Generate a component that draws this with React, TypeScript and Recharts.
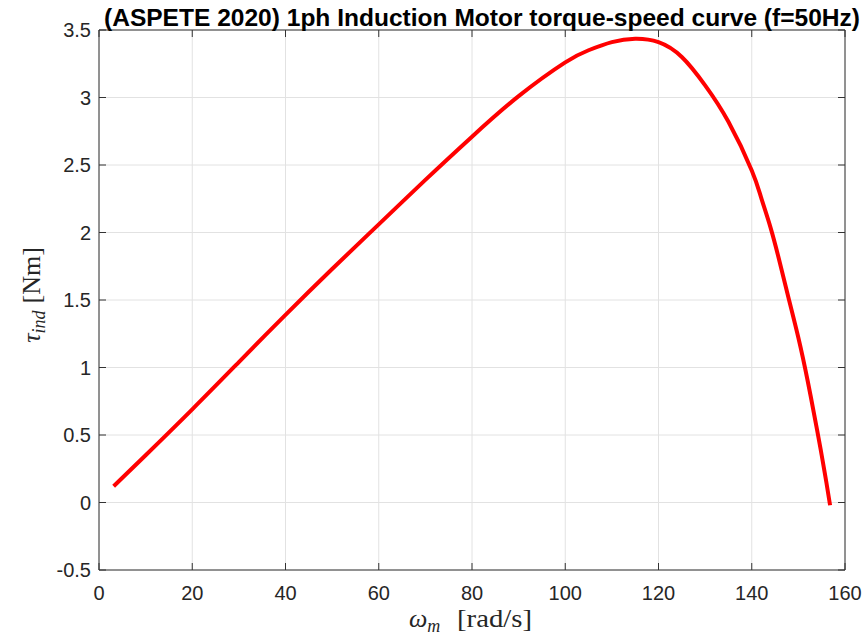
import React from 'react';
import { LineChart, Line, XAxis, YAxis, CartesianGrid } from 'recharts';

// shaft speed (rad/s) and induced torque (Nm)
const speed = [
  3.14, 10, 20, 30, 40, 50, 60, 70, 80, 90, 100, 105, 110, 115, 120, 125, 130,
  135, 140, 142, 144, 146, 148, 150, 152, 154, 155, 156, 156.8,
];
const torque = [
  0.12, 0.35, 0.69, 1.04, 1.39, 1.73, 2.06, 2.39, 2.71, 3.01, 3.26, 3.35, 3.41,
  3.435, 3.41, 3.3, 3.09, 2.82, 2.46, 2.26, 2.04, 1.78, 1.5, 1.22, 0.9, 0.54,
  0.35, 0.15, -0.02,
];
const xTicks = [0, 20, 40, 60, 80, 100, 120, 140, 160];
const yTicks = [-0.5, 0, 0.5, 1, 1.5, 2, 2.5, 3, 3.5];

const title = '(ASPETE 2020) 1ph Induction Motor torque-speed curve (f=50Hz)';

const rows = speed.map((w, i) => ({ w, tau: torque[i] }));

const W = 867;
const H = 639;
const axisColor = '#333333';
const labelFont = 'Liberation Sans, Arial, sans-serif';
const serif = 'Liberation Serif, DejaVu Serif, serif';
const line = { stroke: axisColor, strokeWidth: 1 };
const TICK = 7;

// tick renderers: MATLAB style, tick marks point into the plot box
const BottomTick = (p: any) => (
  <g>
    <line x1={p.x} x2={p.x} y1={p.y - 15} y2={p.y - 15 - TICK} stroke={axisColor} />
    <text x={p.x} y={p.y} dy="0.75em" textAnchor="middle" fontSize={20} fontFamily={labelFont} fill="#262626">
      {String(p.payload.value)}
    </text>
  </g>
);

const LeftTick = (p: any) => (
  <g>
    <line x1={p.x + 8} x2={p.x + 8 + TICK} y1={p.y} y2={p.y} stroke={axisColor} />
    <text x={p.x} y={p.y} dy="0.36em" textAnchor="end" fontSize={20} fontFamily={labelFont} fill="#262626">
      {String(p.payload.value)}
    </text>
  </g>
);

const TopTick = (p: any) => (
  <line x1={p.x} x2={p.x} y1={p.y} y2={p.y + TICK} stroke={axisColor} />
);

const RightTick = (p: any) => (
  <line x1={p.x} x2={p.x - TICK} y1={p.y} y2={p.y} stroke={axisColor} />
);

const App: React.FC = () => {
  return (
    <div style={{ position: 'absolute', left: 0, top: 0, width: W, height: H, background: '#fff' }}>
      <LineChart width={W} height={H} data={rows} margin={{ top: 20, right: 12, bottom: 0, left: 0 }}>
        <CartesianGrid stroke="#e2e2e2" strokeWidth={1} />
        <XAxis
          dataKey="w"
          type="number"
          domain={[0, 160]}
          ticks={xTicks}
          height={69}
          tickSize={0}
          tickMargin={15}
          tick={BottomTick}
          axisLine={line}
          tickLine={false}
          allowDataOverflow
        />
        <YAxis
          type="number"
          domain={[-0.5, 3.5]}
          ticks={yTicks}
          width={99}
          tickSize={0}
          tickMargin={8}
          tick={LeftTick}
          axisLine={line}
          tickLine={false}
          allowDataOverflow
        />
        <XAxis
          xAxisId="top"
          orientation="top"
          dataKey="w"
          type="number"
          domain={[0, 160]}
          ticks={xTicks}
          height={10}
          tickSize={0}
          tickMargin={0}
          tick={TopTick}
          axisLine={line}
          tickLine={false}
          allowDataOverflow
        />
        <YAxis
          yAxisId="right"
          orientation="right"
          type="number"
          domain={[-0.5, 3.5]}
          ticks={yTicks}
          width={10}
          tickSize={0}
          tickMargin={0}
          tick={RightTick}
          axisLine={line}
          tickLine={false}
          allowDataOverflow
        />
        <Line
          type="natural"
          dataKey="tau"
          stroke="#ff0000"
          strokeWidth={4}
          dot={false}
          activeDot={false}
          isAnimationActive={false}
        />
      </LineChart>

      {/* title and axis labels */}
      <svg
        width={W}
        height={H}
        style={{ position: 'absolute', left: 0, top: 0, pointerEvents: 'none' }}
      >
        <text
          x={104}
          y={26}
          fontFamily={labelFont}
          fontWeight="bold"
          fontSize={24}
          fill="#000"
          textLength={756}
          lengthAdjust="spacingAndGlyphs"
        >
          {title}
        </text>
        <text x={409} y={627} fontFamily={serif} fill="#262626" fontSize={26}>
          <tspan fontStyle="italic">ω</tspan>
          <tspan fontStyle="italic" fontSize={18} dy={5}>m</tspan>
        </text>
        <text
          x={457}
          y={627}
          fontFamily={serif}
          fill="#262626"
          fontSize={26}
          textLength={75}
          lengthAdjust="spacingAndGlyphs"
        >
          [rad/s]
        </text>
        <text
          transform="translate(40,295) rotate(-90)"
          textAnchor="middle"
          fontFamily={serif}
          fill="#262626"
          fontSize={26}
        >
          <tspan fontStyle="italic">τ</tspan>
          <tspan fontStyle="italic" fontSize={18} dy={5}>ind</tspan>
          <tspan dx={7} dy={-5}>[Nm]</tspan>
        </text>
      </svg>
    </div>
  );
};

export default App;
